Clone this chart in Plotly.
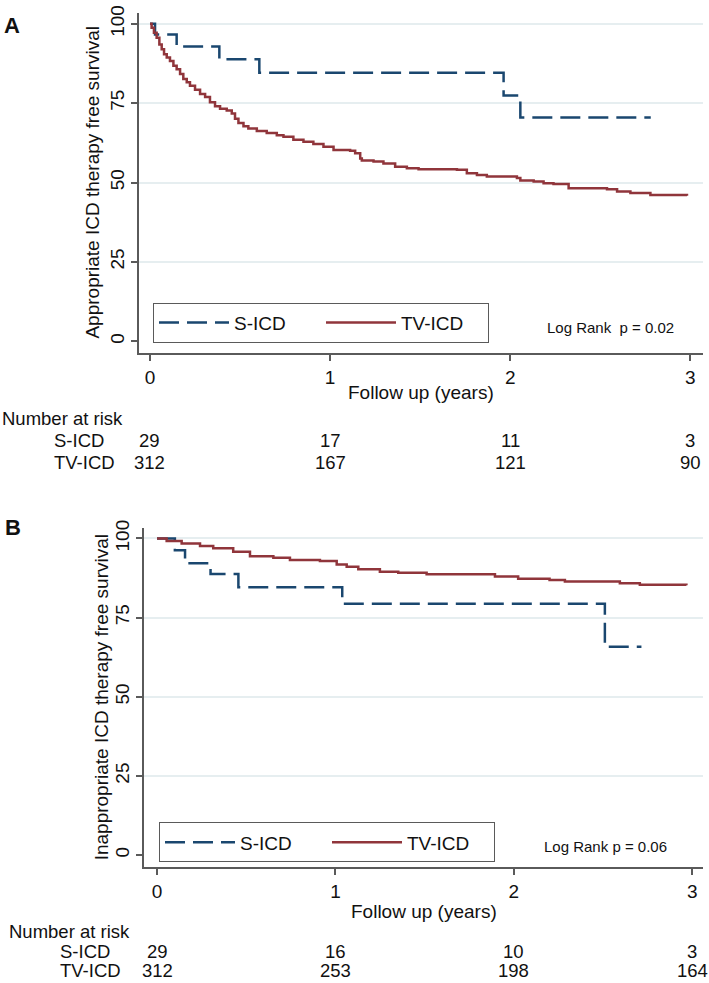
import plotly.graph_objects as go

W, H = 709, 983
FONT = "Liberation Sans, Arial, sans-serif"
NAVY = "#1a476f"
MAROON = "#90353b"
AXIS = "#5a5a5a"
GRID = "#e6eef0"
TXT = "#111111"

# ---------------- data ----------------
series_names = ["S-ICD", "TV-ICD"]
x_ticks = [0, 1, 2, 3]
y_ticks = [0, 25, 50, 75, 100]
grid_vals = [25, 50, 75, 100]

# Panel A : appropriate ICD therapy free survival
a_sicd_t = [0, 0.028, 0.148, 0.385, 0.607, 1.963, 2.056, 2.78]
a_sicd_s = [100, 96.6, 92.8, 88.8, 84.6, 77.4, 70.5, 70.5]
a_tv_t = [0, 0.009, 0.022, 0.037, 0.052, 0.065, 0.078, 0.093, 0.111, 0.13, 0.148,
          0.167, 0.185, 0.204, 0.222, 0.25, 0.278, 0.306, 0.333, 0.361, 0.389,
          0.426, 0.454, 0.472, 0.491, 0.519, 0.546, 0.593, 0.648, 0.704, 0.741,
          0.796, 0.852, 0.907, 0.963, 1.019, 1.111, 1.139, 1.167, 1.176, 1.241,
          1.296, 1.361, 1.426, 1.491, 1.704, 1.759, 1.815, 1.870, 2.037, 2.056,
          2.13, 2.185, 2.24, 2.324, 2.537, 2.593, 2.667, 2.778, 2.981]
a_tv_s = [100, 98.75, 97.2, 95.6, 93.5, 92.0, 90.4, 89.4, 88.3, 86.8, 85.7,
          84.2, 82.6, 81.6, 80.5, 79.2, 77.9, 76.9, 75.3, 74.0, 73.2,
          72.7, 71.7, 70.1, 68.75, 67.7, 67.0, 66.25, 65.6, 64.9, 64.4,
          63.5, 62.8, 62.1, 61.25, 60.2, 60.0, 59.2, 57.6, 56.9, 56.6,
          56.0, 55.0, 54.5, 54.2, 54.0, 52.9, 52.4, 51.9, 51.4, 50.6,
          50.3, 49.8, 49.5, 48.2, 47.9, 47.2, 46.7, 46.1, 45.8]
a_risk_sicd = ["29", "17", "11", "3"]
a_risk_tv = ["312", "167", "121", "90"]
a_ytitle = "Appropriate ICD therapy free survival"
a_logrank = "Log Rank\u00a0\u00a0p = 0.02"

# Panel B : inappropriate ICD therapy free survival
b_sicd_t = [0, 0.1, 0.157, 0.3, 0.456, 1.038, 2.51, 2.715]
b_sicd_s = [100, 96.3, 92.2, 88.8, 84.6, 79.4, 65.8, 65.8]
b_tv_t = [0, 0.054, 0.138, 0.241, 0.315, 0.427, 0.521, 0.652, 0.745, 0.913, 1.007,
          1.063, 1.128, 1.249, 1.352, 1.511, 1.894, 2.024, 2.2, 2.286, 2.594,
          2.706, 2.967]
b_tv_s = [100, 99.2, 98.4, 97.6, 96.9, 95.8, 94.4, 93.9, 93.2, 92.9, 91.8,
          91.1, 90.3, 89.5, 89.2, 88.7, 88.0, 87.3, 86.9, 86.4, 85.9,
          85.4, 85.2]
b_risk_sicd = ["29", "16", "10", "3"]
b_risk_tv = ["312", "253", "198", "164"]
b_ytitle = "Inappropriate ICD therapy free survival"
b_logrank = "Log Rank p = 0.06"

xtitle = "Follow up (years)"
risk_title = "Number at risk"


def px(x):
    return x / W


def py(y):
    return 1 - y / H


fig = go.Figure()

dash = "20px,8px"
for (t, s, name, col, dsh, xa, ya, lg) in [
    (a_sicd_t, a_sicd_s, series_names[0], NAVY, dash, "x", "y", "legend"),
    (a_tv_t, a_tv_s, series_names[1], MAROON, "solid", "x", "y", "legend"),
    (b_sicd_t, b_sicd_s, series_names[0], NAVY, dash, "x2", "y2", "legend2"),
    (b_tv_t, b_tv_s, series_names[1], MAROON, "solid", "x2", "y2", "legend2"),
]:
    fig.add_trace(go.Scatter(
        x=t, y=s, name=name, mode="lines",
        line=dict(color=col, width=2.5, dash=dsh, shape="hv"),
        xaxis=xa, yaxis=ya, legend=lg, hoverinfo="skip"))

axis_common = dict(showline=True, linecolor=AXIS, linewidth=1.5, ticks="outside",
                   ticklen=6, tickcolor=AXIS, tickwidth=1.5,
                   tickfont=dict(family=FONT, size=19, color=TXT),
                   zeroline=False, showgrid=False)

legend_common = dict(xanchor="left", yanchor="top",
                     orientation="h", bordercolor=AXIS, borderwidth=1, bgcolor="white",
                     font=dict(family=FONT, size=19, color=TXT),
                     itemwidth=70, entrywidth=82, entrywidthmode="pixels")

fig.update_layout(
    width=W, height=H,
    margin=dict(l=0, r=0, t=0, b=0),
    paper_bgcolor="white", plot_bgcolor="white",
    font=dict(family=FONT, size=19, color=TXT),
    xaxis=dict(domain=[px(139), px(703)], range=[-0.061, 3.07], anchor="y",
               tickvals=x_ticks, **axis_common),
    yaxis=dict(domain=[py(348), py(5)], range=[-3.75, 103.4], anchor="x",
               tickvals=y_ticks, tickangle=-90,
               minor=dict(tickvals=grid_vals, showgrid=True, gridcolor=GRID,
                          gridwidth=1.5, ticks=""),
               **axis_common),
    xaxis2=dict(domain=[px(144), px(703)], range=[-0.073, 3.06], anchor="y2",
                tickvals=x_ticks, **axis_common),
    yaxis2=dict(domain=[py(866), py(524)], range=[-3.76, 103.4], anchor="x2",
                tickvals=y_ticks, tickangle=-90,
                minor=dict(tickvals=grid_vals, showgrid=True, gridcolor=GRID,
                           gridwidth=1.5, ticks=""),
                **axis_common),
    legend=dict(x=px(153), y=py(297), **legend_common),
    legend2=dict(x=px(159), y=py(821), **legend_common),
    showlegend=True,
)

ann = []


def txt(text, x, y, xref="paper", xanchor="center", size=19, angle=0):
    ann.append(dict(text=text, x=x, y=y, xref=xref, yref="paper",
                    xanchor=xanchor, yanchor="middle", showarrow=False,
                    textangle=angle, font=dict(family=FONT, size=size, color=TXT)))


# Panel labels
txt("<b>A</b>", px(2), py(18), xanchor="left", size=22)
txt("<b>B</b>", px(3), py(524), xanchor="left", size=22)

# Axis titles
txt(a_ytitle, px(93), py(176), angle=-90)
txt(b_ytitle, px(101), py(695), angle=-90)
txt(xtitle, px(421), py(388))
txt(xtitle, px(424), py(911))

# Log rank
txt(a_logrank, px(610), py(322), size=15)
txt(b_logrank, px(605), py(845), size=15)

# Risk tables
txt(risk_title, px(0), py(414), xanchor="left", size=18.5)
txt(series_names[0], px(52), py(436), xanchor="left", size=18.5)
txt(series_names[1], px(52), py(458), xanchor="left", size=18.5)
for xv, a, b in zip(x_ticks, a_risk_sicd, a_risk_tv):
    txt(a, xv, py(436), xref="x", size=18.5)
    txt(b, xv, py(458), xref="x", size=18.5)

txt(risk_title, px(7), py(931), xanchor="left", size=18.5)
txt(series_names[0], px(58), py(951), xanchor="left", size=18.5)
txt(series_names[1], px(58), py(970), xanchor="left", size=18.5)
for xv, a, b in zip(x_ticks, b_risk_sicd, b_risk_tv):
    txt(a, xv, py(951), xref="x2", size=18.5)
    txt(b, xv, py(970), xref="x2", size=18.5)

fig.update_layout(annotations=ann)
fig.write_html(
    "out.html",
    config={"displayModeBar": False},
    post_script="document.body.style.margin='0';document.body.style.overflow='hidden';",
)
